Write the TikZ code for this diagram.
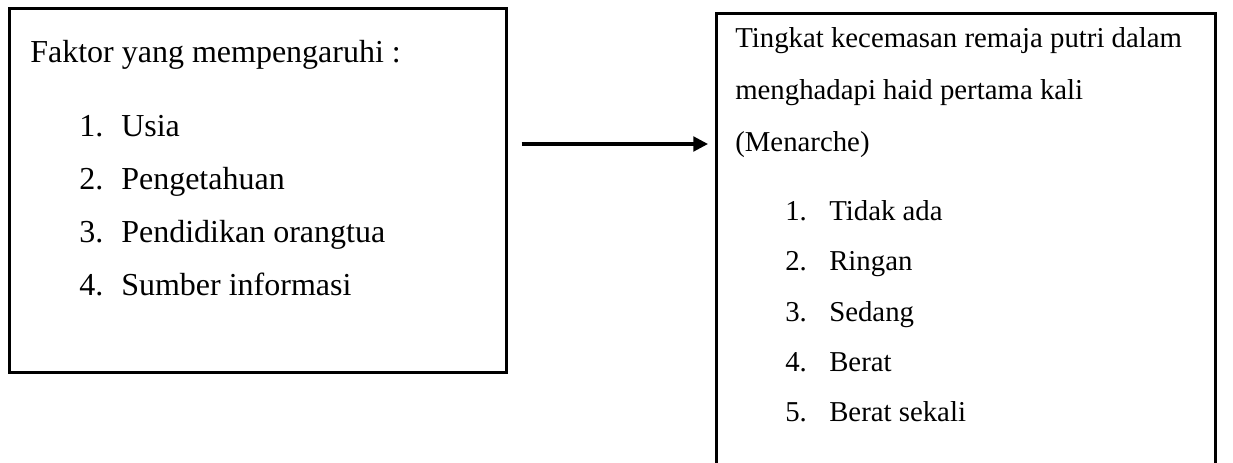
\documentclass[tikz,border=0pt]{standalone}
\usepackage{fontspec}
\setmainfont{Liberation Serif}
\usetikzlibrary{arrows.meta,calc}
\begin{document}
\begin{tikzpicture}[x=0.75pt,y=-0.75pt,
  frame/.style={draw=black,line width=1.9pt,inner sep=0pt,anchor=north west},
  txtL/.style={anchor=base west,inner sep=0pt,font=\fontsize{24pt}{28pt}\selectfont},
  txtR/.style={anchor=base west,inner sep=0pt,font=\fontsize{21.6pt}{26pt}\selectfont},
  arr/.style={line width=2.3pt,-{Triangle[length=11pt,width=11pt]}}]
\useasboundingbox (0,0) rectangle (1233,463);
\clip (0,0) rectangle (1233,463);
\node[frame,minimum width=497*0.75pt,minimum height=364*0.75pt] (left) at (8,7) {};
\node[frame,minimum width=499*0.75pt,minimum height=480*0.75pt] (right) at (715,12) {};
% left texts
\node[txtL] (l0) at (30,63) {Faktor yang mempengaruhi :};
\node[txtL] (l1n) at (79,137) {1.}; \node[txtL] (l1) at (121,137) {Usia};
\node[txtL] (l2n) at (79,190) {2.}; \node[txtL] (l2) at (121,190) {Pengetahuan};
\node[txtL] (l3n) at (79,243) {3.}; \node[txtL] (l3) at (121,243) {Pendidikan orangtua};
\node[txtL] (l4n) at (79,296) {4.}; \node[txtL] (l4) at (121,296) {Sumber informasi};
% right texts
\node[txtR] (r0) at (735,48) {Tingkat kecemasan remaja putri dalam};
\node[txtR] (r0b) at (735,100) {menghadapi haid pertama kali};
\node[txtR] (r0c) at (735,152) {(Menarche)};
\node[txtR] (r1n) at (785,221) {1.}; \node[txtR] (r1) at (829,221) {Tidak ada};
\node[txtR] (r2n) at (785,271) {2.}; \node[txtR] (r2) at (829,271) {Ringan};
\node[txtR] (r3n) at (785,322) {3.}; \node[txtR] (r3) at (829,322) {Sedang};
\node[txtR] (r4n) at (785,372) {4.}; \node[txtR] (r4) at (829,372) {Berat};
\node[txtR] (r5n) at (785,422) {5.}; \node[txtR] (r5) at (829,422) {Berat sekali};
% arrow
\draw[arr] ($(left.north east)+(14,137)$) -- ($(right.north west)+(-7,132)$);
\end{tikzpicture}
\end{document}
